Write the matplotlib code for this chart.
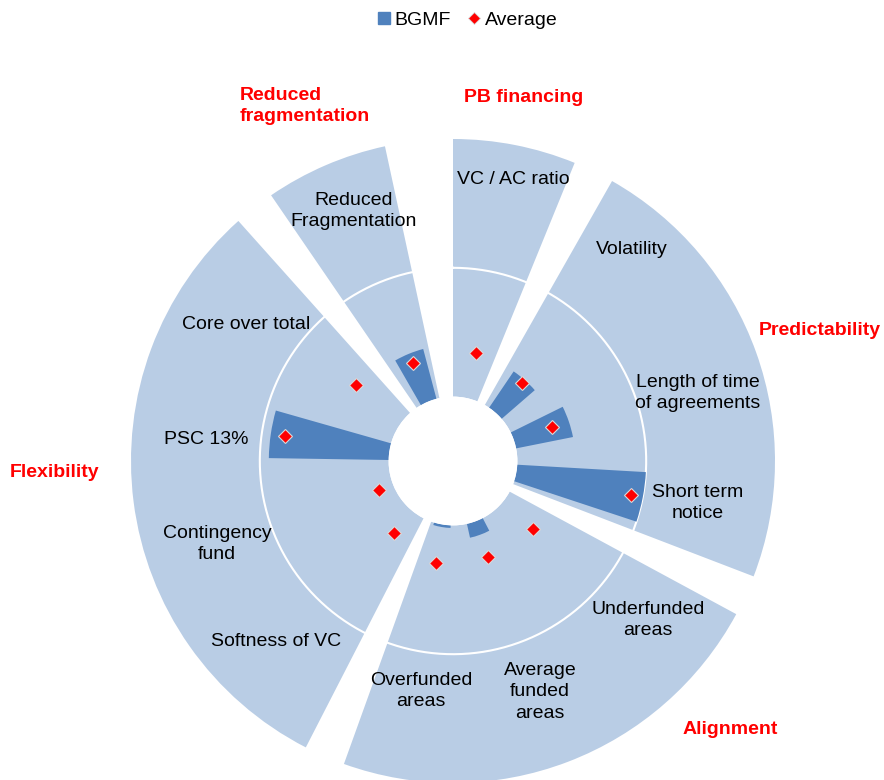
#!/usr/bin/env python

import numpy as np
import matplotlib
matplotlib.use("Agg")
import matplotlib.pyplot as plt
from matplotlib.lines import Line2D

fig_filepath = "out.png"

# groups and their items, clockwise from the top
groups = ["PB financing", "Predictability", "Alignment", "Flexibility", "Reduced\nfragmentation"]
group_sizes = [1, 3, 3, 4, 1]
items = ["VC / AC ratio", "Volatility", "Length of time\nof agreements", "Short term\nnotice",
	"Underfunded\nareas", "Average\nfunded\nareas", "Overfunded\nareas",
	"Softness of VC", "Contingency\nfund", "PSC 13%", "Core over total",
	"Reduced\nFragmentation"]
bgmf = [0.0, 0.34, 0.45, 1.0, 0.0, 0.11, 0.02, 0.0, 0.0, 0.93, 0.0, 0.40]
average = [0.36, 0.31, 0.31, 0.91, 0.32, 0.29, 0.30, 0.22, 0.12, 0.82, 0.46, 0.32]
scale_max = 2.0
grid_level = 1.0

LIGHT = "#B9CDE5"
DARK = "#4F81BD"
RED = "#FF0000"

W, H = 884, 780


def px(x, y):
	return x / W, 1 - y / H


def main():
	plt.rcParams["font.family"] = ["Liberation Sans", "DejaVu Sans"]

	fig = plt.figure(figsize=(W / 100, H / 100), dpi=100)

	# polar axes centred on the hole, 1 unit = 128.8 px
	unit = 128.8
	rorigin = -0.5
	rmax = 2.05
	rad_px = (rmax - rorigin) * unit
	cx, cy = 453, 461
	ax = fig.add_axes([(cx - rad_px) / W, (H - cy - rad_px) / H, 2 * rad_px / W, 2 * rad_px / H],
		projection="polar")
	ax.set_theta_zero_location("N")
	ax.set_theta_direction(-1)
	ax.set_rorigin(rorigin)
	ax.set_ylim(0, rmax)
	ax.axis("off")

	step = 29.6
	gap = 7.4

	# light group wedges
	start = 0
	for size in group_sizes:
		ax.bar(np.radians(start * step), scale_max, width=np.radians(size * step - gap),
			bottom=0, align="edge", color=LIGHT, linewidth=0, zorder=1)
		start += size

	# white ring
	t = np.linspace(0, 2 * np.pi, 500)
	ax.plot(t, np.full_like(t, grid_level), color="white", lw=1.5, zorder=2)

	theta = np.radians(12 + step * np.arange(len(items)))
	ax.bar(theta, bgmf, width=np.radians(15), bottom=0, color=DARK, linewidth=0, zorder=3)
	ax.plot(theta, average, ls="none", marker="D", ms=7.6, mfc=RED, mec="#D9D9D9",
		mew=0.8, zorder=4)

	# item labels
	label_pos = [(513, 179), (632, 249), (698, 393), (698, 503), (648, 620), (540, 692),
		(421, 691), (276, 642), (217, 544), (206, 439), (246, 324), (354, 211)]
	for name, (x, y) in zip(items, label_pos):
		fig.text(*px(x, y), name, ha="center", va="center", fontsize=14,
			color="black", multialignment="center", linespacing=1.35)

	# group labels
	group_pos = [(524, 98, "center"), (820, 330, "center"), (730, 730, "center"),
		(55, 473, "center"), (240, 106, "left")]
	for name, (x, y, ha) in zip(groups, group_pos):
		fig.text(*px(x, y), name, ha=ha, va="center", fontsize=14, fontweight="bold",
			color=RED, multialignment="left", linespacing=1.35)

	handles = [Line2D([], [], ls="none", marker="s", ms=8, color=DARK),
		Line2D([], [], ls="none", marker="D", ms=5.8, mfc=RED, mec="#D9D9D9", mew=0.6)]
	fig.legend(handles, ["BGMF", "Average"], loc="center", bbox_to_anchor=px(468, 20),
		ncol=2, frameon=False, fontsize=14, handlelength=0.6, handletextpad=0.25,
		columnspacing=0.9)

	fig.savefig(fig_filepath, dpi=100)


if __name__ == "__main__":
	main()
